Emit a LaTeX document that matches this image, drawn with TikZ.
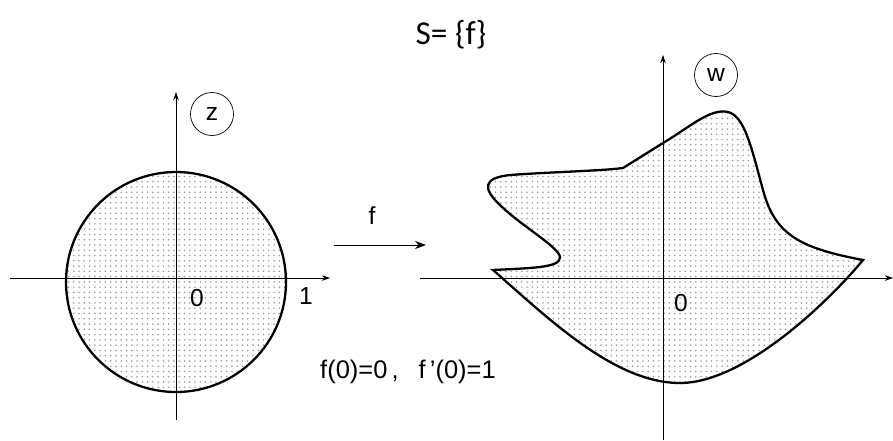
\documentclass[tikz,border=0pt]{standalone}
\usepackage{fontspec}
\setmainfont{Liberation Sans}
\newfontfamily\titlefont{Carlito}
\usetikzlibrary{patterns,arrows.meta}

\begin{document}
\begin{tikzpicture}[
    x=0.02cm, y=-0.02cm,
    axis/.style={thin, -{Stealth[length=1.6mm, width=1.1mm]}},
    region/.style={line width=1.3pt, pattern=dots, pattern color=gray!80},
    planelabel/.style={circle, draw, thin, minimum size=0.86cm, inner sep=0pt, font=\fontsize{14}{16}\selectfont},
    ticklabel/.style={font=\fontsize{14}{16}\selectfont},
    maparrow/.style={thin, -{Stealth[length=2.2mm, width=1.6mm]}},
]

\useasboundingbox (0,0) rectangle (893,440);

% Title
\node[font=\titlefont\fontsize{19}{22}\selectfont] (title) at (451,35) {S= \{f\}};

% z-plane: unit disk
\filldraw[region] (176,282) circle (110);
\draw[axis] (10,278) -- (330,278);
\draw[axis] (176,420) -- (176,92);
\node[planelabel] (zlabel) at (212,114) {z};
\node[ticklabel] (zero1) at (197,298) {0};
\node[ticklabel] (one) at (306,296) {1};

% The map f
\coordinate (fstart) at (334,245);
\coordinate (fend) at (426,245);
\draw[maparrow] (fstart) -- (fend);
\node[ticklabel] (flabel) at (372,216) {f};
\node[font=\fontsize{14.5}{17}\selectfont] (normal) at (408,372) {f(0)=0\,,\,\,\, f\,'(0)=1};

% w-plane: image domain
\filldraw[region] (493,270)
    .. controls (530,268) and (561,268) .. (560,257)
    .. controls (559,247) and (520,225) .. (500,205)
    .. controls (483,189) and (482,178) .. (510,175)
    .. controls (550,172) and (600,171) .. (623,168)
    -- (663,143)
    .. controls (690,127) and (710,108) .. (728,112)
    .. controls (745,116) and (752,150) .. (763,190)
    .. controls (775,235) and (800,248) .. (863,260)
    .. controls (830,300) and (745,383) .. (680,383)
    .. controls (615,383) and (550,320) .. (493,270)
    -- cycle;
\draw[axis] (420,278) -- (893,278);
\draw[axis] (663,440) -- (663,55);
\node[planelabel] (wlabel) at (716,75) {w};
\node[ticklabel] (zero2) at (681,303) {0};

\end{tikzpicture}
\end{document}
